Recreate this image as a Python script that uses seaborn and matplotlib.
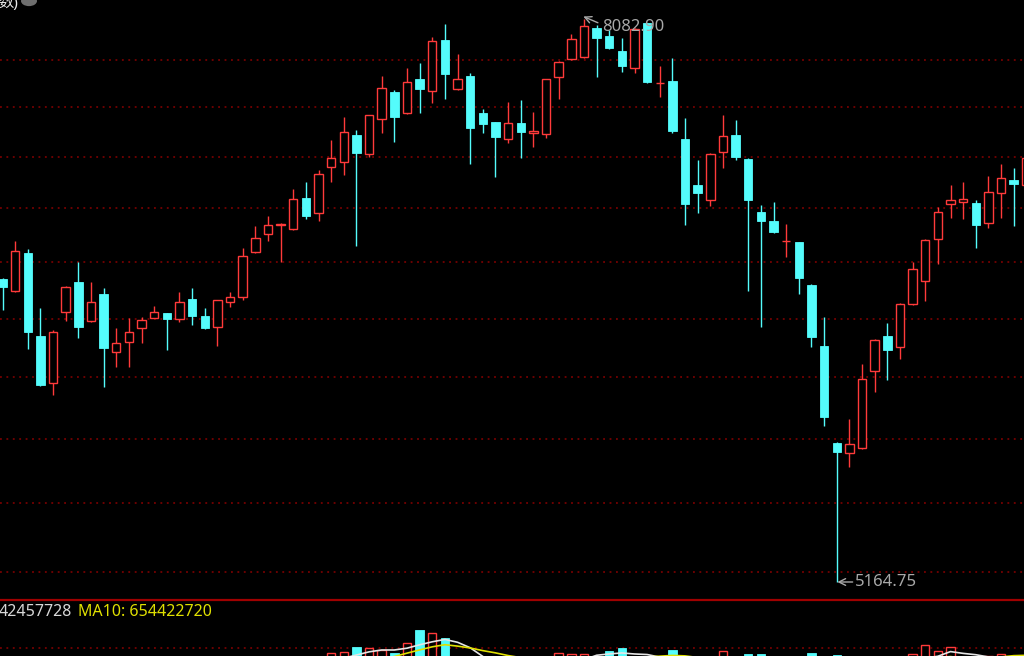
import numpy as np
import pandas as pd
import matplotlib
matplotlib.use("Agg")
import matplotlib.pyplot as plt
from matplotlib.lines import Line2D
from matplotlib.patches import Circle
import seaborn as sns

# ---------------- data ----------------
opens = [6573, 6512, 6710, 6281, 6051, 6402, 6557, 6357, 6495, 6202,
         6251, 6321, 6372, 6397, 6367, 6469, 6382, 6327, 6454, 6479,
         6715, 6812, 6861, 6839, 7010, 6929, 7185, 7214, 7370, 7260,
         7465, 7627, 7501, 7706, 7633, 7949, 7645, 7725, 7501, 7447,
         7347, 7441, 7382, 7376, 7719, 7830, 7842, 8025, 7974, 7880,
         7774, 8057, 7680, 7694, 7347, 7083, 6999, 7271, 7370, 7231,
         6932, 6883, 6772, 6769, 6541, 6232, 5769, 5723, 5746, 6109,
         6281, 6227, 6443, 6562, 6785, 6977, 6988, 6982, 6872, 7038,
         7111, 7083]
highs = [6580, 6774, 6731, 6423, 6311, 6535, 6662, 6557, 6526, 6321,
         6372, 6377, 6433, 6399, 6505, 6526, 6423, 6466, 6505, 6737,
         6856, 6910, 6872, 7061, 7100, 7168, 7341, 7477, 7400, 7491,
         7725, 7639, 7774, 7805, 7968, 8051, 7861, 7743, 7525, 7450,
         7567, 7579, 7507, 7709, 7815, 7987, 8082.9, 8045, 8013, 7962,
         8025, 8060, 7786, 7836, 7471, 7225, 7266, 7489, 7459, 7236,
         6971, 6988, 6867, 6771, 6544, 6377, 5771, 5880, 6143, 6264,
         6347, 6446, 6662, 6783, 6960, 7083, 7100, 6999, 7134, 7202,
         7180, 7250]
lows = [6412, 6507, 6217, 6036, 5993, 6357, 6271, 6354, 6032, 6128,
        6128, 6246, 6370, 6212, 6352, 6337, 6318, 6232, 6428, 6464,
        6712, 6774, 6664, 6834, 6894, 6885, 7100, 7140, 6749, 7243,
        7382, 7329, 7497, 7501, 7561, 7585, 7642, 7202, 7382, 7128,
        7324, 7237, 7300, 7353, 7585, 7826, 7836, 7719, 7895, 7749,
        7743, 7684, 7597, 7382, 6861, 6927, 6966, 7180, 7225, 6510,
        6327, 6820, 6689, 6495, 6227, 5847, 5164.75, 5660, 5742, 6008,
        6065, 6167, 6440, 6459, 6652, 6900, 6894, 6737, 6845, 6900,
        6856, 7075]
closes = [6531, 6722, 6301, 6041, 6301, 6531, 6327, 6454, 6222, 6246,
          6301, 6362, 6402, 6367, 6454, 6382, 6321, 6464, 6479, 6694,
          6791, 6861, 6867, 7005, 6910, 7145, 7237, 7388, 7266, 7489,
          7651, 7477, 7688, 7645, 7943, 7737, 7706, 7412, 7435, 7359,
          7441, 7388, 7394, 7706, 7811, 7955, 8038, 7962, 7899, 7786,
          8019, 7688, 7683, 7394, 6977, 7038, 7260, 7365, 7243, 6999,
          6883, 6823, 6776, 6578, 6276, 5889, 5728, 5764, 6070, 6261,
          6212, 6443, 6625, 6780, 6932, 6999, 7005, 6861, 7044, 7123,
          7089, 7237]
# volume, millions of shares
volumes = [560, 600, 620, 640, 610, 540, 580, 500, 590, 520,
           480, 450, 430, 470, 460, 480, 450, 470, 430, 560,
           580, 540, 520, 610, 600, 630, 669, 675, 706, 700,
           688, 669, 731, 812, 794, 762, 580, 560, 540, 560,
           520, 540, 500, 640, 669, 662, 662, 640, 681, 700,
           630, 645, 560, 688, 640, 560, 600, 681, 580, 662,
           662, 560, 520, 610, 669, 645, 656, 600, 640, 620,
           560, 620, 662, 719, 681, 706, 564, 620, 650, 660,
           640, 642]

price_grid = [5206.0, 5499.7, 5787.0, 6079.7, 6366.8, 6662.1, 6954.6, 7242.6, 7536.5, 7823.6]
vol_grid = [700]
high_label = "8082.90"
low_label = "5164.75"
ma5_text = "42457728"
ma10_text = "MA10: 654422720"
title_fragment = "数)"

# ---------------- frame ----------------
n = len(opens)
df = pd.DataFrame({"i": np.arange(n), "open": opens, "high": highs,
                   "low": lows, "close": closes, "vol": volumes})
df["up"] = df["close"] >= df["open"]
df["ma5"] = df["vol"].rolling(5).mean()
df["ma10"] = df["vol"].rolling(10).mean()

sns.set_theme(style="dark", rc={"axes.facecolor": "black",
                                "figure.facecolor": "black",
                                "savefig.facecolor": "black"})
plt.rcParams["font.family"] = ["Noto Sans", "Noto Sans CJK SC", "DejaVu Sans"]

RED = "#ff3a3a"
CYAN = "#54fcfc"
GRID = "#8a0000"
LABEL = "#a8a8a8"

W, H = 1024, 656
fig = plt.figure(figsize=(W / 100, H / 100), dpi=100)
ax = fig.add_axes([0, 56 / H, 1, 600 / H])
axv = fig.add_axes([0, -104 / H, 1, 160 / H])

xlim = (-2.5 / 12.64, (W - 2.5) / 12.64)
for a in (ax, axv):
    a.set_axis_off()
    a.set_xlim(*xlim)

ax.set_yscale("log")
ax.set_ylim(5091.3, 8206.1)
axv.set_ylim(0, 1000)

# grid lines
for g in price_grid:
    ax.axhline(g, color=GRID, lw=1.1, dashes=(1.2, 3.0), zorder=1)
for g in vol_grid:
    axv.axhline(g, color=GRID, lw=1.1, dashes=(1.2, 3.0), zorder=1)

bw = 0.67
up = df[df["up"]]
dn = df[~df["up"]]

# down candles: cyan filled
ax.vlines(dn["i"], dn["low"], dn["high"], color=CYAN, lw=1.0, zorder=2)
ax.bar(dn["i"], dn["open"] - dn["close"], bottom=dn["close"], width=bw,
       color=CYAN, edgecolor=CYAN, lw=0.6, zorder=3)
# up candles: red hollow
ax.vlines(up["i"], up["low"], up["open"], color=RED, lw=1.0, zorder=2)
ax.vlines(up["i"], up["close"], up["high"], color=RED, lw=1.0, zorder=2)
ax.bar(up["i"], (up["close"] - up["open"]).clip(lower=0.5), bottom=up["open"],
       width=bw, facecolor="black", edgecolor=RED, lw=1.0, zorder=3)

# extreme labels
hi_i = int(np.argmax(highs))
lo_i = int(np.argmin(lows))
ax.annotate("", xy=(hi_i - 0.05, highs[hi_i] * 1.002), xytext=(10.5, -4.5),
            textcoords="offset points",
            arrowprops=dict(arrowstyle="->", color=LABEL, lw=1.0,
                            shrinkA=0, shrinkB=0), zorder=5)
ax.annotate(high_label, xy=(hi_i, highs[hi_i]), xytext=(13, -5.5),
            textcoords="offset points", color=LABEL, fontsize=12,
            ha="left", va="center", zorder=5)
ax.annotate("", xy=(lo_i + 0.05, lows[lo_i]), xytext=(11, 0),
            textcoords="offset points",
            arrowprops=dict(arrowstyle="->", color=LABEL, lw=1.0,
                            shrinkA=0, shrinkB=0), zorder=5)
ax.annotate(low_label, xy=(lo_i, lows[lo_i]), xytext=(13, 0),
            textcoords="offset points", color=LABEL, fontsize=12,
            ha="left", va="center", zorder=5)

# volume bars
vu = df[df["up"]]
vd = df[~df["up"]]
axv.bar(vd["i"], vd["vol"], width=bw, color=CYAN, edgecolor=CYAN, lw=0.6, zorder=3)
axv.bar(vu["i"], vu["vol"], width=bw, facecolor="black", edgecolor=RED, lw=1.0, zorder=3)
sns.lineplot(data=df, x="i", y="ma5", ax=axv, color="#e6e6e6", lw=1.2, zorder=4)
sns.lineplot(data=df, x="i", y="ma10", ax=axv, color="#e0e000", lw=1.2, zorder=4)
axv.set_axis_off()

# separator line
fig.add_artist(Line2D([0, 1], [56 / H, 56 / H], color="#a00000", lw=1.6))

# volume header text
fig.text(-1 / W, 1 - 612 / H, ma5_text, color="#d8d8d8", fontsize=11.5,
         ha="left", va="center")
fig.text(78 / W, 1 - 612 / H, ma10_text, color="#e0e000", fontsize=11.5,
         ha="left", va="center")

# top-left fragment of the title bar
fig.text(-2 / W, 1 - 3 / H, title_fragment, color="#e8e8e8", fontsize=11,
         ha="left", va="center")
fig.add_artist(Circle((29 / W, 1 - 1 / H), 8 / W, transform=fig.transFigure,
                      facecolor="#6e6e6e", edgecolor="none"))

fig.savefig("out.png", dpi=100, facecolor="black")
